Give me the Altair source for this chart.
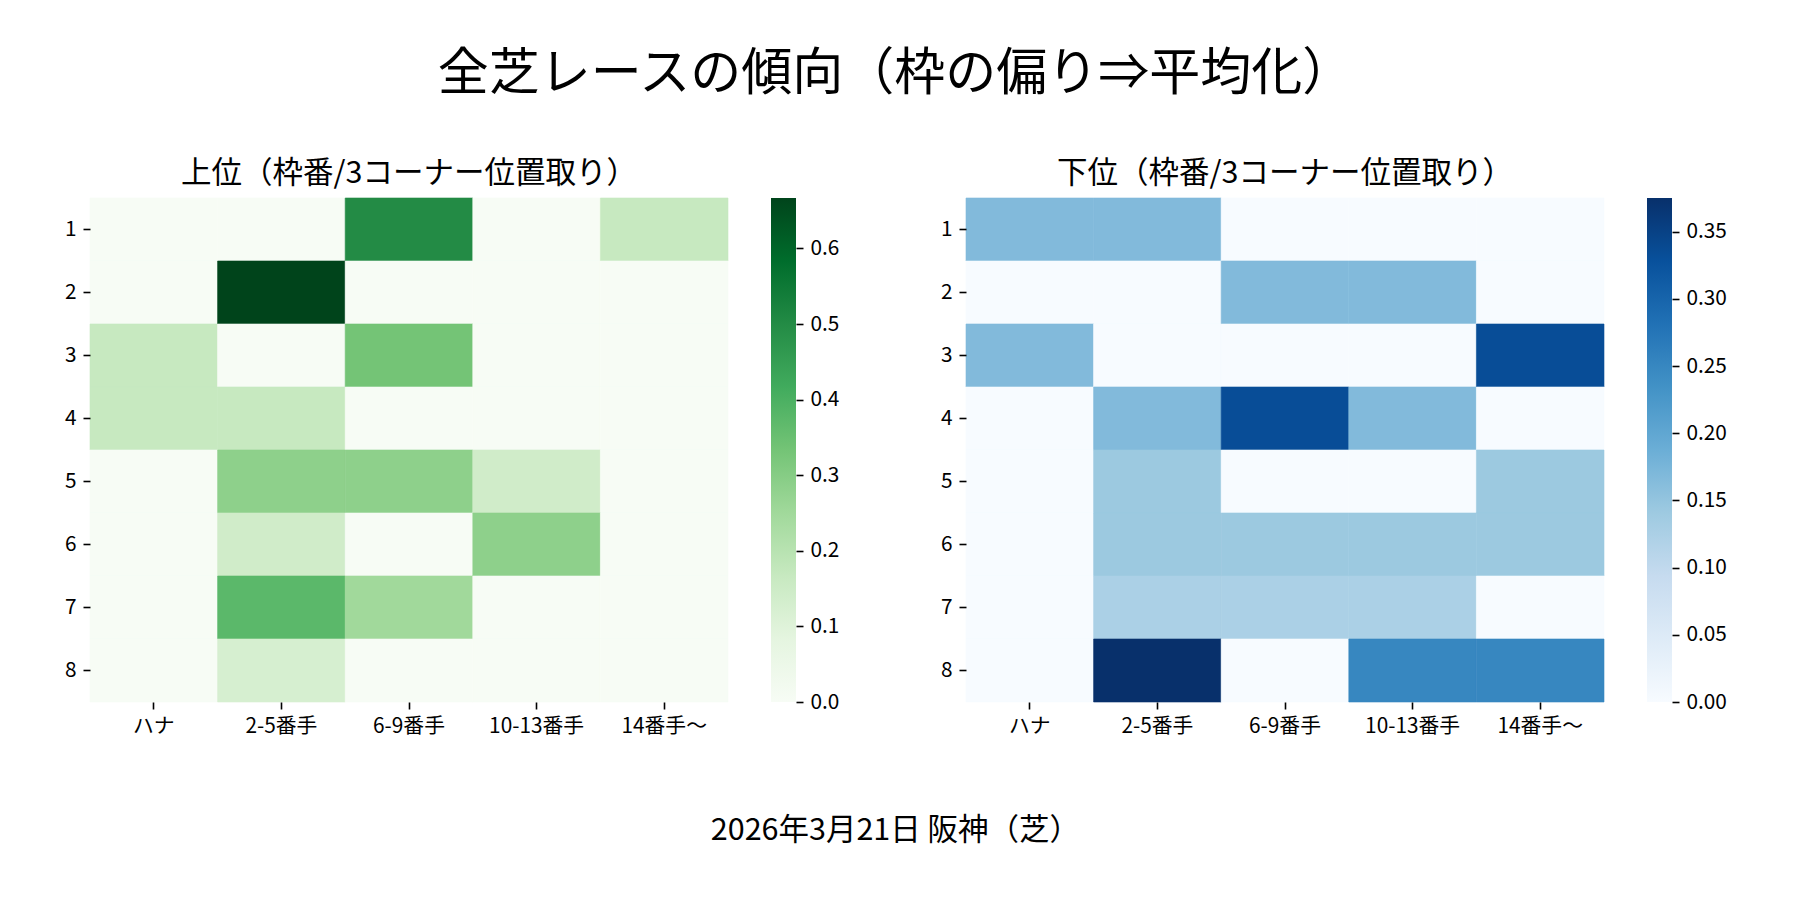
import altair as alt
import pandas as pd

MAIN_TITLE = "全芝レースの傾向（枠の偏り⇒平均化）"
TOP_TITLE = "上位（枠番/3コーナー位置取り）"
BOTTOM_TITLE = "下位（枠番/3コーナー位置取り）"
FOOTER = "2026年3月21日 阪神（芝）"

ROWS = ["1", "2", "3", "4", "5", "6", "7", "8"]
COLS = ["ハナ", "2-5番手", "6-9番手", "10-13番手", "14番手〜"]

TOP_VALUES = [
    [0.0, 0.0, 0.5, 0.0, 0.1667],
    [0.0, 0.6667, 0.0, 0.0, 0.0],
    [0.1667, 0.0, 0.3333, 0.0, 0.0],
    [0.1667, 0.1667, 0.0, 0.0, 0.0],
    [0.0, 0.2857, 0.2857, 0.1429, 0.0],
    [0.0, 0.1429, 0.0, 0.2857, 0.0],
    [0.0, 0.375, 0.25, 0.0, 0.0],
    [0.0, 0.125, 0.0, 0.0, 0.0],
]
BOTTOM_VALUES = [
    [0.1667, 0.1667, 0.0, 0.0, 0.0],
    [0.0, 0.0, 0.1667, 0.1667, 0.0],
    [0.1667, 0.0, 0.0, 0.0, 0.3333],
    [0.0, 0.1667, 0.3333, 0.1667, 0.0],
    [0.0, 0.1429, 0.0, 0.0, 0.1429],
    [0.0, 0.1429, 0.1429, 0.1429, 0.1429],
    [0.0, 0.125, 0.125, 0.125, 0.0],
    [0.0, 0.375, 0.0, 0.25, 0.25],
]

GREEN_TICKS = [0.0, 0.1, 0.2, 0.3, 0.4, 0.5, 0.6]
BLUE_TICKS = [0.0, 0.05, 0.10, 0.15, 0.20, 0.25, 0.30, 0.35]

GREENS = ["#f7fcf5", "#e5f5e0", "#c7e9c0", "#a1d99b", "#74c476",
          "#41ab5d", "#238b45", "#006d2c", "#00441b"]
BLUES = ["#f7fbff", "#deebf7", "#c6dbef", "#9ecae1", "#6baed6",
         "#4292c6", "#2171b5", "#08519c", "#08306b"]

FONT = "Noto Sans CJK JP"
W, H = 638, 504


def long_form(values):
    recs = []
    for r, row in zip(ROWS, values):
        for c, v in zip(COLS, row):
            recs.append({"gate": r, "pos": c, "v": v})
    return pd.DataFrame(recs)


def vmax_of(values):
    return max(max(r) for r in values)


def heatmap(values, colors, title):
    vmax = vmax_of(values)
    n = len(colors)
    dom = [vmax * i / (n - 1) for i in range(n)]
    cscale = alt.Scale(domain=dom, range=colors, interpolate="rgb")
    return alt.Chart(long_form(values)).mark_rect(strokeWidth=0.6).encode(
        x=alt.X("pos:N", sort=COLS,
                scale=alt.Scale(paddingInner=0, paddingOuter=0),
                axis=alt.Axis(title=None, labelAngle=0, domain=False,
                              tickSize=7, labelPadding=7)),
        y=alt.Y("gate:N", sort=ROWS,
                scale=alt.Scale(paddingInner=0, paddingOuter=0),
                axis=alt.Axis(title=None, labelAngle=0, domain=False,
                              tickSize=7, labelPadding=7)),
        color=alt.Color("v:Q", legend=None, scale=cscale),
        stroke=alt.Stroke("v:Q", legend=None, scale=cscale),
    ).properties(
        width=W, height=H,
        title=alt.TitleParams(title, fontSize=30.5, offset=8,
                              fontWeight="normal", color="black",
                              anchor="middle"),
    )


def colorbar(values, colors, ticks, fmt):
    vmax = vmax_of(values)
    n = len(colors)
    grad = alt.LinearGradient(
        gradient="linear",
        stops=[alt.GradientStop(offset=i / (n - 1), color=c)
               for i, c in enumerate(colors)],
        x1=0, x2=0, y1=1, y2=0,
    )
    df = pd.DataFrame({"lo": [0.0], "hi": [vmax]})
    return alt.Chart(df).mark_rect(color=grad).encode(
        y=alt.Y("lo:Q",
                scale=alt.Scale(domain=[0, vmax], nice=False, zero=False),
                axis=alt.Axis(title=None, orient="right", values=ticks,
                              format=fmt, domain=False, grid=False,
                              tickSize=7, labelPadding=7)),
        y2="hi:Q",
    ).properties(width=25, height=H)


RES = dict(color="independent", stroke="independent", y="independent")

left = alt.hconcat(
    heatmap(TOP_VALUES, GREENS, TOP_TITLE),
    colorbar(TOP_VALUES, GREENS, GREEN_TICKS, ".1f"),
    spacing=43, bounds="flush",
).resolve_scale(**RES)
right = alt.hconcat(
    heatmap(BOTTOM_VALUES, BLUES, BOTTOM_TITLE),
    colorbar(BOTTOM_VALUES, BLUES, BLUE_TICKS, ".2f"),
    spacing=43, bounds="flush",
).resolve_scale(**RES)

row = alt.hconcat(left, right, spacing=101).resolve_scale(
    x="independent", **RES
).properties(
    title=alt.TitleParams(MAIN_TITLE, fontSize=51, offset=58,
                          fontWeight="normal", color="black",
                          anchor="middle")
)

chart = alt.vconcat(row).resolve_scale(
    color="independent", stroke="independent"
).properties(
    title=alt.TitleParams(FOOTER, orient="bottom", fontSize=30.5, offset=80,
                          fontWeight="normal", color="black",
                          anchor="middle"),
    padding={"left": 56, "top": 41, "right": 5, "bottom": 5},
).configure(
    font=FONT,
).configure_view(
    strokeWidth=0,
).configure_axis(
    labelFont=FONT, labelFontSize=20.8, labelColor="black",
    tickColor="black", tickWidth=1.6,
).configure_title(
    font=FONT,
)

chart.save("out.html", embed_options={"renderer": "svg", "actions": False})
